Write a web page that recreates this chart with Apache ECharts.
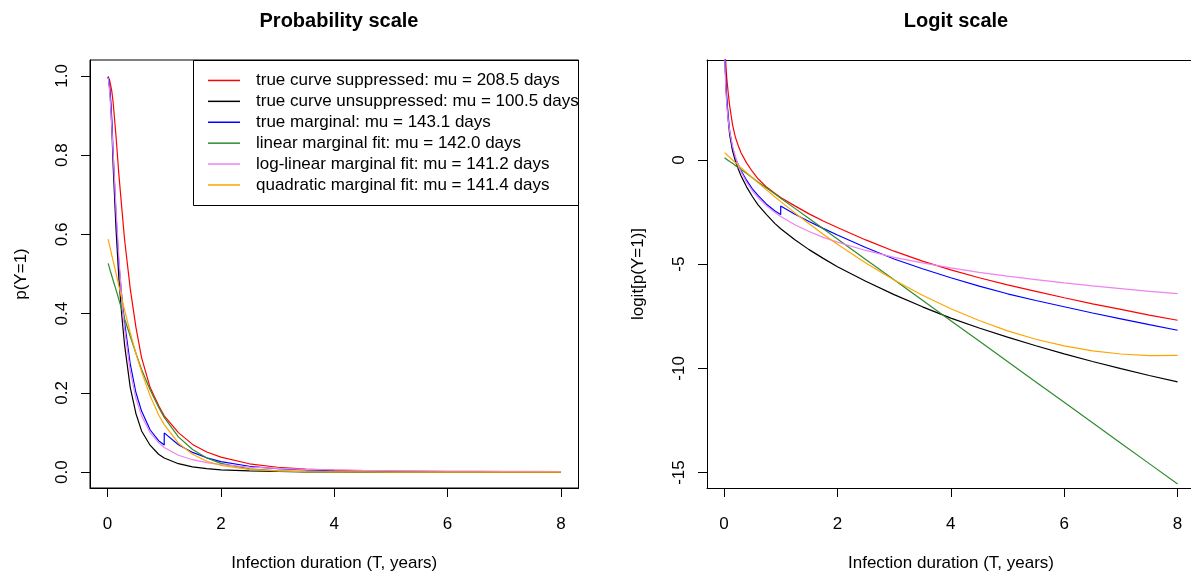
<!DOCTYPE html>
<html>
<head>
<meta charset="utf-8">
<script src="https://cdn.jsdelivr.net/npm/echarts@6/dist/echarts.min.js"></script>
<style>
html,body{margin:0;padding:0;background:#fff;}
#chart{width:1191px;height:573px;}
</style>
</head>
<body>
<div id="chart"></div>
<script>
// ---- data ----
const tGrid = [0.01,0.02,0.035,0.05,0.075,0.1,0.15,0.2,0.25,0.3,0.4,0.5,0.6,0.75,0.9,1,1.25,1.5,1.75,2,2.5,3,3.5,4,4.5,5,5.5,6,6.5,7,7.5,8];
const tBlue = [0.01,0.02,0.035,0.05,0.075,0.1,0.15,0.2,0.25,0.3,0.4,0.5,0.6,0.75,0.9,1,1,1.25,1.5,1.75,2,2.5,3,3.5,4,4.5,5,5.5,6,6.5,7,7.5,8];

// logit scale values
const redLogit    = [6.4,5.3,4.5,3.9,3.2,2.6,1.7,1.1,0.7,0.35,-0.15,-0.55,-0.9,-1.3,-1.6,-1.8,-2.2,-2.585,-2.93,-3.235,-3.835,-4.375,-4.85,-5.275,-5.65,-5.99,-6.3,-6.61,-6.9,-7.17,-7.44,-7.69];
const blackLogit  = [5.9,4.6,3.5,2.8,1.9,1.2,0.45,-0.05,-0.42,-0.75,-1.3,-1.75,-2.15,-2.62,-3.05,-3.3,-3.83,-4.3,-4.72,-5.12,-5.82,-6.46,-7.045,-7.585,-8.06,-8.5,-8.915,-9.305,-9.67,-10.015,-10.34,-10.65];
const blueLogit   = [6.0,4.6,3.6,2.9,2.1,1.4,0.6,0.1,-0.22,-0.5,-0.98,-1.38,-1.7,-2.12,-2.45,-2.61,-2.21,-2.6,-2.95,-3.28,-3.6,-4.2,-4.75,-5.22,-5.65,-6.05,-6.42,-6.74,-7.04,-7.34,-7.62,-7.9,-8.17];
const greenLogit  = [0.11,0.09,0.06,0.03,-0.02,-0.07,-0.16,-0.26,-0.36,-0.46,-0.65,-0.85,-1.05,-1.34,-1.63,-1.83,-2.32,-2.81,-3.3,-3.79,-4.77,-5.75,-6.73,-7.71,-8.69,-9.67,-10.65,-11.63,-12.61,-13.59,-14.57,-15.55];
const pinkLogit   = [5.49,4.25,3.26,2.62,1.9,1.39,0.667,0.155,-0.24,-0.567,-1.08,-1.476,-1.8,-2.2,-2.52,-2.71,-3.11,-3.43,-3.71,-3.94,-4.34,-4.67,-4.94,-5.18,-5.39,-5.575,-5.74,-5.9,-6.04,-6.17,-6.3,-6.41];
const orangeLogit = [0.355,0.329,0.291,0.253,0.19,0.128,0.003,-0.122,-0.245,-0.367,-0.61,-0.849,-1.085,-1.433,-1.773,-1.996,-2.538,-3.06,-3.561,-4.04,-4.94,-5.76,-6.49,-7.14,-7.7,-8.2,-8.6,-8.92,-9.16,-9.31,-9.39,-9.38];

// probability scale values
const redProb    = [0.9983,0.995,0.989,0.98,0.961,0.931,0.846,0.75,0.668,0.587,0.463,0.366,0.289,0.214,0.168,0.142,0.0998,0.07,0.0507,0.0379,0.0211,0.0124,0.0078,0.0051,0.0035,0.0025,0.0018,0.00135,0.001,0.00077,0.00059,0.00046];
const blackProb  = [0.9973,0.99,0.971,0.943,0.87,0.769,0.611,0.4875,0.3965,0.321,0.214,0.148,0.104,0.068,0.0452,0.0356,0.0213,0.0134,0.0088,0.0059,0.003,0.0016,0.00087,0.0005,0.0003,0.0002,0.00013,0.00009,0.00006,0.00004,0.00003,0.00002];
const blueProb   = [0.9975,0.99,0.973,0.948,0.891,0.802,0.646,0.525,0.445,0.378,0.273,0.201,0.154,0.107,0.0794,0.0685,0.099,0.069,0.0498,0.0362,0.0266,0.0148,0.0086,0.0054,0.0035,0.0024,0.0016,0.0012,0.00088,0.00065,0.00049,0.00037,0.00028];
const greenProb  = [0.527,0.522,0.515,0.507,0.495,0.483,0.46,0.435,0.411,0.387,0.343,0.30,0.259,0.208,0.164,0.138,0.089,0.057,0.0356,0.0221,0.0084,0.0032,0.0012,0.00045,0.00017,0.00006,0.00002,0.00001,0,0,0,0];
const pinkProb   = [0.9959,0.986,0.963,0.932,0.87,0.801,0.661,0.539,0.44,0.362,0.254,0.186,0.142,0.0998,0.0745,0.0624,0.0427,0.0314,0.0239,0.0191,0.0129,0.0093,0.0071,0.0056,0.0045,0.0038,0.0032,0.0027,0.0024,0.0021,0.0018,0.0016];
const orangeProb = [0.588,0.582,0.572,0.563,0.547,0.532,0.501,0.47,0.439,0.409,0.352,0.30,0.253,0.193,0.145,0.12,0.073,0.045,0.0276,0.0173,0.0071,0.0031,0.0015,0.0008,0.00045,0.00027,0.00018,0.00013,0.0001,0.00009,0.00008,0.00008];

const seriesNames = [
  'true curve suppressed: mu = 208.5 days',
  'true curve unsuppressed: mu = 100.5 days',
  'true marginal: mu = 143.1 days',
  'linear marginal fit: mu = 142.0 days',
  'log-linear marginal fit: mu = 141.2 days',
  'quadratic marginal fit: mu = 141.4 days'
];
const seriesColors = ['#ff0000','#000000','#0000ff','#2e8b2e','#ee82ee','#ffa500'];
const xTicks = [0,2,4,6,8];
const probTicks = [0,0.2,0.4,0.6,0.8,1.0];
const logitTicks = [-15,-10,-5,0];
const titles = ['Probability scale','Logit scale'];
const xName = 'Infection duration (T, years)';
const yNames = ['p(Y=1)','logit[p(Y=1)]'];

// ---- build ----
const FONT = '"Liberation Sans", Arial, Helvetica, sans-serif';
const zip = (xs, ys) => xs.map((x, i) => [x, ys[i]]);
const probSets  = [[tGrid,redProb],[tGrid,blackProb],[tBlue,blueProb],[tGrid,greenProb],[tGrid,pinkProb],[tGrid,orangeProb]];
const logitSets = [[tGrid,redLogit],[tGrid,blackLogit],[tBlue,blueLogit],[tGrid,greenLogit],[tGrid,pinkLogit],[tGrid,orangeLogit]];

const series = [];
[probSets, logitSets].forEach((sets, gi) => {
  sets.forEach((s, i) => {
    series.push({
      type: 'line', name: seriesNames[i], xAxisIndex: gi, yAxisIndex: gi,
      data: zip(s[0], s[1]), showSymbol: false, symbol: 'none', smooth: false,
      clip: true, animation: false,
      lineStyle: { color: seriesColors[i], width: 1.2 },
      itemStyle: { color: seriesColors[i] }
    });
  });
});

const labelStyle = { color: '#000', fontSize: 17, fontFamily: FONT };
const nameStyle = { color: '#000', fontSize: 17, fontFamily: FONT };
const tickStyle = { length: 9, lineStyle: { color: '#000', width: 1 } };
const axLine = { show: true, onZero: false, lineStyle: { color: '#000', width: 1 } };

function xAxis(gi, min, max) {
  return {
    type: 'value', gridIndex: gi, min: min, max: max,
    splitLine: { show: false }, axisLine: axLine,
    name: xName, nameLocation: 'middle', nameGap: 67, nameTextStyle: nameStyle,
    axisTick: Object.assign({ show: true, customValues: xTicks }, tickStyle),
    axisLabel: Object.assign({ customValues: xTicks, margin: 28, formatter: v => String(v) }, labelStyle)
  };
}
function topLine(gi, min, max) {
  return {
    type: 'value', gridIndex: gi, min: min, max: max, position: 'top',
    splitLine: { show: false }, axisLine: axLine,
    axisTick: { show: false }, axisLabel: { show: false }
  };
}
function yAxis(gi, min, max, ticks, name, fmt) {
  return {
    type: 'value', gridIndex: gi, min: min, max: max,
    splitLine: { show: false }, axisLine: axLine,
    name: name, nameLocation: 'middle', nameGap: 60, nameTextStyle: nameStyle,
    axisTick: Object.assign({ show: true, customValues: ticks }, tickStyle),
    axisLabel: Object.assign({ customValues: ticks, rotate: 90, margin: 19, formatter: fmt }, labelStyle)
  };
}

const chart = echarts.init(document.getElementById('chart'), null, { renderer: 'canvas' });
chart.setOption({
  animation: false,
  backgroundColor: '#fff',
  title: [
    { text: titles[0], left: 334, top: 6, textAlign: 'center',
      textStyle: { fontSize: 20, fontWeight: 'bold', color: '#000', fontFamily: FONT } },
    { text: titles[1], left: 951, top: 6, textAlign: 'center',
      textStyle: { fontSize: 20, fontWeight: 'bold', color: '#000', fontFamily: FONT } }
  ],
  grid: [
    { left: 90, top: 60, width: 488.5, height: 428, show: true, borderColor: '#000', borderWidth: 1,
      backgroundColor: 'transparent', containLabel: false, outerBoundsMode: 'none' },
    { left: 707, top: 60, width: 488, height: 428, show: false, containLabel: false, outerBoundsMode: 'none' }
  ],
  xAxis: [
    xAxis(0, -0.31, 8.31),
    xAxis(1, -0.30, 8.307),
    topLine(1, -0.30, 8.307)
  ],
  yAxis: [
    yAxis(0, -0.04, 1.04, probTicks, yNames[0], v => v.toFixed(1)),
    yAxis(1, -15.74, 4.80, logitTicks, yNames[1], v => String(v))
  ],
  legend: {
    data: seriesNames,
    orient: 'vertical', left: 208, top: 70, padding: 0,
    itemWidth: 32, itemHeight: 1.5, itemGap: 0, icon: 'rect',
    selectedMode: false,
    textStyle: { fontSize: 17, lineHeight: 20.9, color: '#000', fontFamily: FONT, padding: [0, 0, 0, 11] }
  },
  graphic: [
    { type: 'rect', shape: { x: 193.5, y: 60.5, width: 385, height: 145 },
      style: { fill: 'none', stroke: '#000', lineWidth: 1 }, z: 100, silent: true }
  ],
  series: series
});
</script>
</body>
</html>
